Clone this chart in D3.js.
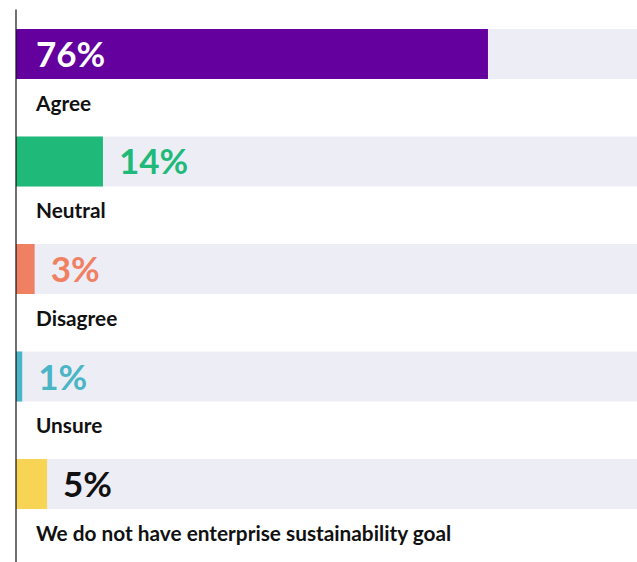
<!DOCTYPE html>
<html>
<head>
<meta charset="utf-8">
<script src="https://cdn.jsdelivr.net/npm/d3@7"></script>
<style>
  body { margin: 0; background: #fff; }
  svg { display: block; }
  .cat { font-family: Lato, sans-serif; font-weight: 700; font-size: 20.8px; fill: #111; }
  .val { font-family: Lato, sans-serif; font-weight: 700; font-size: 35px; }
</style>
</head>
<body>
<svg width="637" height="562"></svg>
<script>
const categories = ['Agree', 'Neutral', 'Disagree', 'Unsure', 'We do not have enterprise sustainability goal']
const values = [76, 14, 3, 1, 5]
const colors = ['#64009e', '#1fba7a', '#f08062', '#4ab5c4', '#f7d454']
const labelColors = ['#ffffff', '#1fba7a', '#f08062', '#4ab5c4', '#111111']

const svg = d3.select('svg')
const width = +svg.attr('width')
const height = +svg.attr('height')

const data = categories.map((c, i) => ({cat: c, value: values[i], color: colors[i], labelColor: labelColors[i]}))

const xScale = d3.scaleLinear()
    .domain([0, 100])
    .range([16, width])

const yScale = d3.scaleBand()
    .domain(categories)
    .range([29, 509])
    .paddingInner(0.535)
    .paddingOuter(0)

// light background track behind each bar
svg.selectAll('rect.track').data(data)
  .enter().append('rect')
    .attr('class', 'track')
    .attr('x', xScale(0))
    .attr('y', d => yScale(d.cat))
    .attr('width', xScale(100) - xScale(0))
    .attr('height', yScale.bandwidth())
    .attr('fill', '#ededf6')

svg.selectAll('rect.bar').data(data)
  .enter().append('rect')
    .attr('class', 'bar')
    .attr('x', xScale(0))
    .attr('y', d => yScale(d.cat))
    .attr('width', d => xScale(d.value) - xScale(0))
    .attr('height', yScale.bandwidth())
    .attr('fill', d => d.color)

// value labels: inside the big bar, just past the end for the small ones
svg.selectAll('text.val').data(data)
  .enter().append('text')
    .attr('class', 'val')
    .attr('x', d => d.value > 30 ? xScale(0) + 20 : xScale(d.value) + 16)
    .attr('y', d => yScale(d.cat) + yScale.bandwidth() / 2 + 13)
    .attr('fill', d => d.labelColor)
    .text(d => d.value + '%')

// category labels below each bar
svg.selectAll('text.cat').data(data)
  .enter().append('text')
    .attr('class', 'cat')
    .attr('x', xScale(0) + 20)
    .attr('y', d => yScale(d.cat) + yScale.bandwidth() + 32)
    .text(d => d.cat)

// vertical axis line
const yAxis = d3.axisLeft(d3.scaleLinear().range([9, height])).ticks(0).tickSize(0)
const yAxisG = svg.append('g')
    .attr('transform', 'translate(15.5,0)')
    .call(yAxis)
yAxisG.select('.domain').attr('stroke', '#111').attr('stroke-width', 1.2)
</script>
</body>
</html>
